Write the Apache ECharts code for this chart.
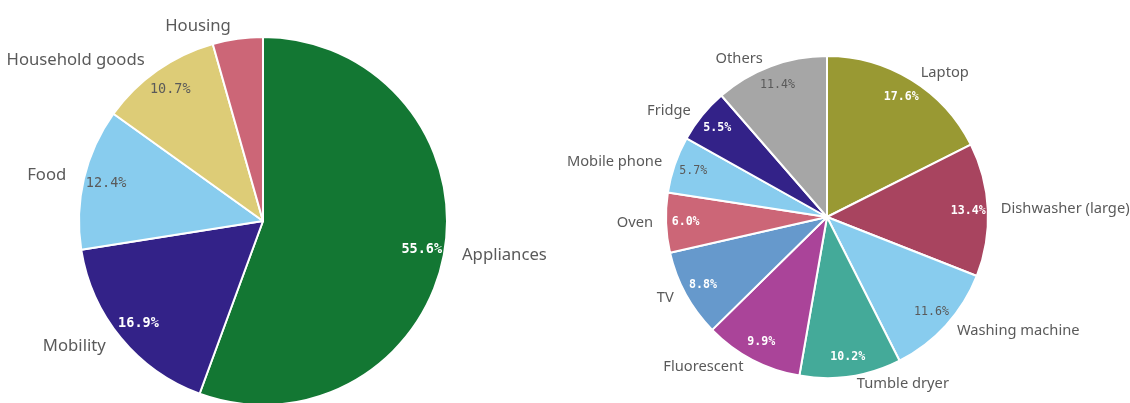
<!DOCTYPE html>
<html>
<head>
<meta charset="utf-8">
<script src="https://cdn.jsdelivr.net/npm/echarts@6/dist/echarts.min.js"></script>
<style>
  html, body { margin: 0; padding: 0; background: #ffffff; }
  #chart { width: 1130px; height: 403px; }
</style>
</head>
<body>
<div id="chart"></div>
<script>
// Consumption share by sector (%)
const sectorNames = ['Appliances', 'Mobility', 'Food', 'Household goods', 'Housing'];
const sectorShares = [55.6, 16.9, 12.4, 10.7, 4.4];

// Appliance breakdown (%)
const deviceNames = ['Laptop', 'Dishwasher (large)', 'Washing machine', 'Tumble dryer', 'Fluorescent',
                     'TV', 'Oven', 'Mobile phone', 'Fridge', 'Others'];
const deviceShares = [17.6, 13.4, 11.6, 10.2, 9.9, 8.8, 6.0, 5.7, 5.5, 11.4];

// Styling
const sectorColors = ['#137733', '#332288', '#88ccee', '#ddcc77', '#cc6677'];
const sectorValueInk = ['#ffffff', '#ffffff', '#5a5a5a', '#5a5a5a', null];
const deviceColors = ['#999933', '#a8445f', '#88ccee', '#44aa99', '#aa4499',
                      '#6699cc', '#cc6677', '#88ccee', '#332288', '#a6a6a6'];
const deviceValueInk = ['#ffffff', '#ffffff', '#5a5a5a', '#ffffff', '#ffffff',
                        '#ffffff', '#ffffff', '#5a5a5a', '#ffffff', '#5a5a5a'];

const NAME_FONT = '"Noto Sans", sans-serif';
const VALUE_FONT = '"DejaVu Sans Mono", monospace';
const NAME_INK = '#5a5a5a';

function slices(names, values, colors) {
  return names.map((n, i) => ({
    name: n,
    value: values[i],
    itemStyle: { color: colors[i] }
  }));
}

function valueSlices(names, values, inks, fontSize) {
  return names.map((n, i) => ({
    name: n,
    value: values[i],
    label: inks[i] ? {
      show: true,
      color: inks[i],
      fontSize: fontSize,
      fontWeight: inks[i] === '#ffffff' ? 'bold' : 'normal'
    } : { show: false }
  }));
}

// A pie with outer category names plus a transparent ring that carries the
// percentage labels near the rim.
function pieWithLabels(center, radius, names, values, colors, inks, nameSize, valueSize, lineLen) {
  return [
    {
      type: 'pie',
      center: center,
      radius: radius,
      startAngle: 90,
      clockwise: true,
      avoidLabelOverlap: false,
      silent: true,
      itemStyle: { borderColor: '#ffffff', borderWidth: 2 },
      label: {
        show: true,
        position: 'outside',
        formatter: '{b}',
        fontFamily: NAME_FONT,
        fontSize: nameSize,
        color: NAME_INK,
        distanceToLabelLine: 5
      },
      labelLine: { show: false, length: lineLen, length2: 0 },
      emphasis: { disabled: true },
      data: slices(names, values, colors)
    },
    {
      type: 'pie',
      center: center,
      radius: [radius * 0.72, radius],
      startAngle: 90,
      clockwise: true,
      avoidLabelOverlap: false,
      silent: true,
      z: 3,
      itemStyle: { color: 'rgba(0,0,0,0)', borderWidth: 0 },
      label: {
        position: 'inside',
        fontFamily: VALUE_FONT,
        formatter: p => p.value.toFixed(1) + '%'
      },
      labelLine: { show: false },
      emphasis: { disabled: true },
      data: valueSlices(names, values, inks, valueSize)
    }
  ];
}

const chart = echarts.init(document.getElementById('chart'), null, { renderer: 'canvas' });
chart.setOption({
  animation: false,
  backgroundColor: '#ffffff',
  series: [
    ...pieWithLabels([263, 221], 184, sectorNames, sectorShares, sectorColors, sectorValueInk, 16.7, 13.5, 13),
    ...pieWithLabels([827, 217], 161, deviceNames, deviceShares, deviceColors, deviceValueInk, 14.7, 11.6, 8)
  ]
});
</script>
</body>
</html>
